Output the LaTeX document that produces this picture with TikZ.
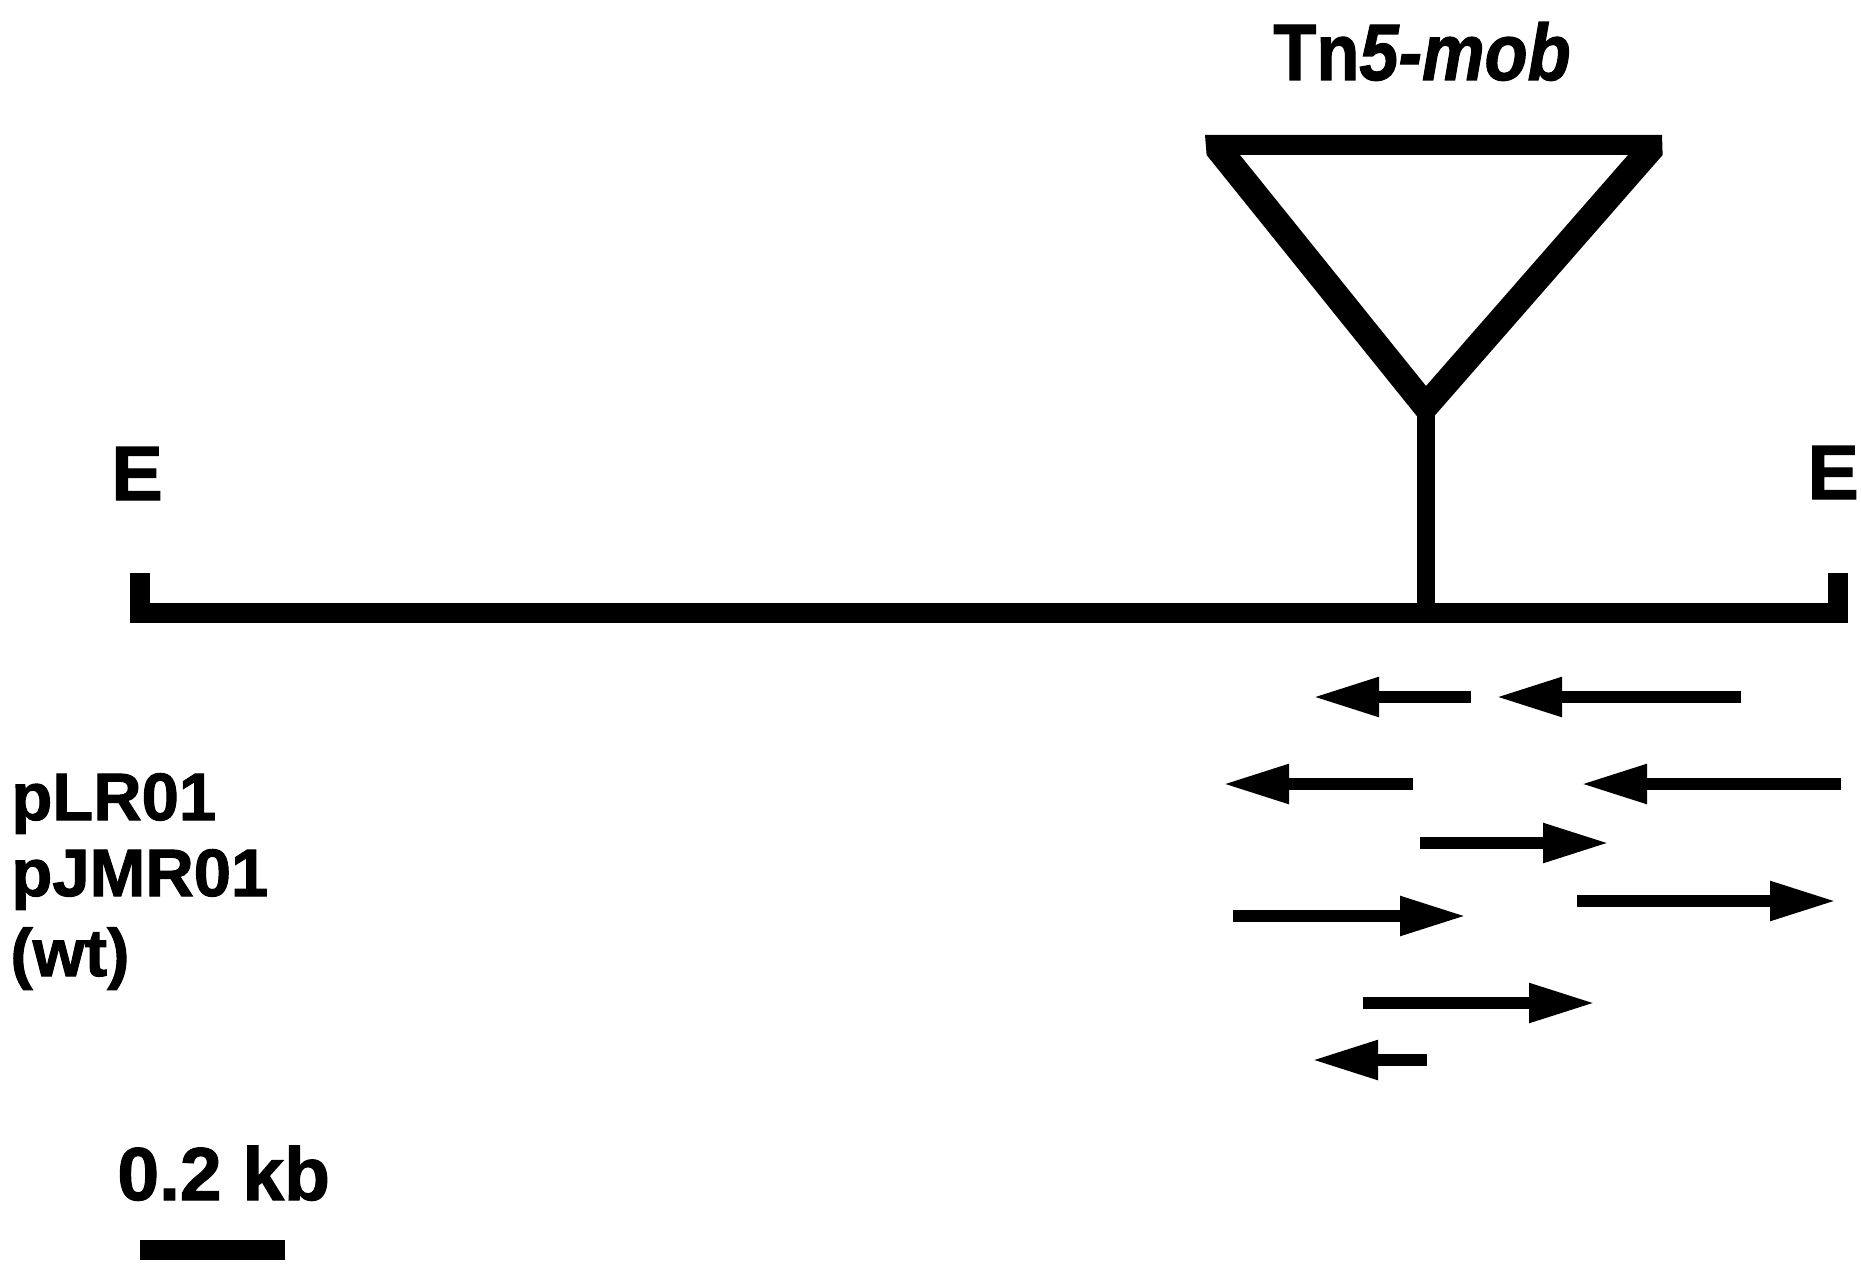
\documentclass[tikz,border=0pt]{standalone}
\usepackage{fontspec}
\setmainfont{Liberation Sans}[BoldFeatures={FakeBold=1.5},BoldItalicFeatures={FakeBold=1.5}]
\usetikzlibrary{arrows.meta}
\begin{document}
\begin{tikzpicture}[x=0.5pt,y=-0.5pt,
  maplabel/.style={font=\bfseries\fontsize{33.5pt}{40pt}\selectfont, inner sep=0pt, anchor=base west},
  sitelabel/.style={font=\bfseries\fontsize{38.5pt}{46pt}\selectfont, inner sep=0pt, anchor=base west},
  mapline/.style={line width=9.75pt, line join=miter},
  readarrow/.style={line width=5.75pt, -{Triangle[length=33pt,width=18.5pt]}}]
\fill[white] (0,0) rectangle (1861,1267);
\useasboundingbox (0,0) rectangle (1861,1267);

% EcoRI fragment with end ticks
\coordinate (EL) at (140,573);
\coordinate (ER) at (1838,573);
\coordinate (ins) at (1426,613);
\draw[mapline] (EL) -- (140,613) -- (1838,613) -- (ER);
\node[sitelabel] (eL) at (111,500) {E};
\node[sitelabel] (eR) at (1807,499) {E};

% Tn5-mob insertion: open triangle, heavier on the slanted sides
\coordinate (apex) at (1426,400);
\fill[even odd rule]
  (1205,135) -- (1662,135) -- (1662.6,155) -- (1425.2,426.5) -- (1206.6,155) -- cycle
  (1240,155) -- (1628,155) -- (1426,386) -- cycle;
\draw[line width=9pt] (apex) -- (ins);
\node[font=\bfseries\fontsize{40pt}{48pt}\selectfont, anchor=base, inner sep=0pt, xscale=0.88] (tn) at (1422,80) {Tn\textit{5-mob}};

% sequencing reads
\draw[readarrow] (1471,697) -- (1313,697);
\draw[readarrow] (1741,697) -- (1496,697);
\draw[readarrow] (1413,784) -- (1223,784);
\draw[readarrow] (1841,784) -- (1581,784);
\draw[readarrow] (1420,843) -- (1609,843);
\draw[readarrow] (1233,916) -- (1466,916);
\draw[readarrow] (1577,901) -- (1836,901);
\draw[readarrow] (1363,1003) -- (1595,1003);
\draw[readarrow] (1427,1060) -- (1312,1060);

% clone labels
\node[maplabel] (plr) at (11,820) {pLR01};
\node[maplabel] (pjm) at (11,896) {pJMR01};
\node[maplabel] (wt) at (10,976) {(wt)};

% scale bar
\node[font=\bfseries\fontsize{37.5pt}{45pt}\selectfont, inner sep=0pt, anchor=base west] (kb) at (117,1200) {0.2 kb};
\coordinate (sbL) at (140,1250);
\coordinate (sbR) at (285,1250);
\draw[line width=10pt] (sbL) -- (sbR);
\end{tikzpicture}
\end{document}
